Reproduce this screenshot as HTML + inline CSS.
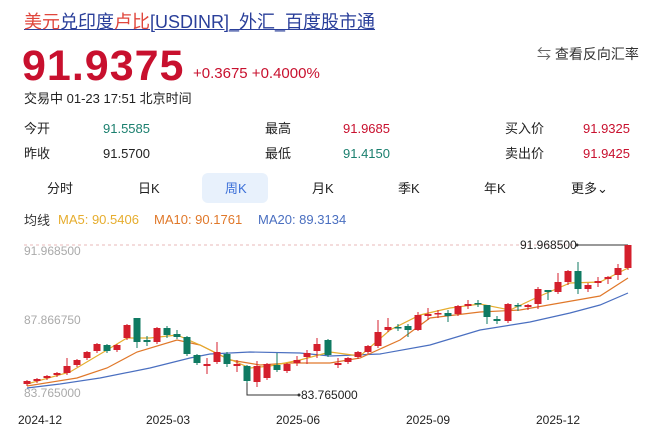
<!DOCTYPE html>
<html><head><meta charset="utf-8"><style>
body{margin:0;width:660px;height:435px;background:#fff;font-family:"Liberation Sans","Noto Sans CJK SC",sans-serif;position:relative;overflow:hidden;color:#222}
.a{position:absolute;white-space:nowrap}
.s{font-size:13px;line-height:18px;height:18px}
.red{color:#c8102e}.grn{color:#1a7f6e}
</style></head><body>
<div class="a" style="left:24px;top:8px;font-size:18px;text-decoration:underline;color:#2a3f9a"><span style="color:#e0463c">美元</span>兑印度<span style="color:#e0463c">卢比</span>[USDINR]_外汇_百度股市通</div>
<div class="a" style="left:22px;top:42px;font-size:43px;font-weight:bold;color:#c8102e;letter-spacing:1px">91.9375</div>
<div class="a" style="left:193px;top:65px;font-size:15px;color:#c8102e">+0.3675 +0.4000%</div>
<div class="a" style="left:537px;top:44px;font-size:14px;color:#333"><span style="color:#666">⇆</span> 查看反向汇率</div>
<div class="a s" style="left:24px;top:90px">交易中 01-23 17:51 北京时间</div>
<div class="a s" style="left:24px;top:120px">今开</div>
<div class="a s grn" style="left:103px;top:120px">91.5585</div>
<div class="a s" style="left:265px;top:120px">最高</div>
<div class="a s red" style="left:343px;top:120px">91.9685</div>
<div class="a s" style="left:505px;top:120px">买入价</div>
<div class="a s red" style="left:583px;top:120px">91.9325</div>
<div class="a s" style="left:24px;top:145px">昨收</div>
<div class="a s" style="left:103px;top:145px">91.5700</div>
<div class="a s" style="left:265px;top:145px">最低</div>
<div class="a s grn" style="left:343px;top:145px">91.4150</div>
<div class="a s" style="left:505px;top:145px">卖出价</div>
<div class="a s red" style="left:583px;top:145px">91.9425</div>
<div class="a" style="left:202px;top:173px;width:66px;height:30px;background:#e8f1fc;border-radius:6px"></div>
<div class="a s" style="left:47px;top:180px">分时</div>
<div class="a s" style="left:138px;top:180px">日K</div>
<div class="a s" style="left:225px;top:180px;color:#3b6fd8">周K</div>
<div class="a s" style="left:312px;top:180px">月K</div>
<div class="a s" style="left:398px;top:180px">季K</div>
<div class="a s" style="left:484px;top:180px">年K</div>
<div class="a s" style="left:571px;top:180px">更多⌄</div>
<div class="a s" style="left:24px;top:212px;color:#333">均线</div>
<div class="a s" style="left:58px;top:211px;color:#e6ad2e">MA5: 90.5406</div>
<div class="a s" style="left:154px;top:211px;color:#e0782a">MA10: 90.1761</div>
<div class="a s" style="left:258px;top:211px;color:#4a6fc0">MA20: 89.3134</div>
<svg class="a" style="left:0;top:0" width="660" height="435" id="s">
<line x1="24" y1="245" x2="630" y2="245" stroke="#e9b8b8" stroke-dasharray="3,3"/>
<text x="24" y="255" font-size="12" fill="#aaa" font-family="Liberation Sans">91.968500</text>
<text x="24" y="324" font-size="12" fill="#aaa" font-family="Liberation Sans">87.866750</text>
<text x="24" y="397" font-size="12" fill="#aaa" font-family="Liberation Sans">83.765000</text>
<g font-size="12" fill="#222" font-family="Liberation Sans">
<text x="18" y="424">2024-12</text><text x="146" y="424">2025-03</text><text x="276" y="424">2025-06</text><text x="406" y="424">2025-09</text><text x="536" y="424">2025-12</text>
<text x="520" y="249">91.968500</text><text x="301" y="399">83.765000</text></g>
<polyline points="577,245 628,245" stroke="#333" fill="none"/><circle cx="577" cy="245" r="1.5" fill="#333"/>
<polyline points="247,381 247,395 299,395" stroke="#333" fill="none"/><circle cx="299" cy="395" r="1.5" fill="#333"/>
<polyline fill="none" stroke="#4a6fc0" stroke-width="1.2" points="27,388 60,384 100,378 150,368 190,358 210,354 250,352 300,353 330,356 380,354 430,345 480,330 530,322 570,313 600,305 628,293"/>
<polyline fill="none" stroke="#e0782a" stroke-width="1.2" points="27,386 77,378 107,368 137,352 177,340 200,345 230,360 260,365 290,363 330,363 360,358 400,340 430,318 480,312 520,310 560,303 600,296 628,278"/>
<polyline fill="none" stroke="#e6ad2e" stroke-width="1.2" points="27,384 70,372 107,350 127,338 150,338 177,335 200,345 220,355 250,368 270,366 300,360 330,352 360,356 390,330 420,315 450,308 480,304 510,310 540,296 570,283 600,282 628,268"/>
<g id="c"></g>
</svg>
<script>
var d=[[27,381,384,'r'],[37,379,381,'r'],[47,376,378,'r'],[57,373,375,'r'],[67,366,373,'r',358],[77,360,365,'r'],[87,352,358,'r'],[97,344,351,'r'],[107,345,351,'g'],[117,345,350,'r'],[127,325,338,'r'],[137,318,342,'g',318,348],[147,340,342,'g',336,346],[157,328,342,'r'],[167,328,335,'g',326,338],[177,334,337,'g',330,339],[187,337,354,'g'],[197,355,363,'g'],[207,364,366,'r',358,374],[217,352,362,'r',342,364],[227,354,364,'g',352,367],[237,364,366,'r',360,372],[247,366,381,'g'],[257,366,382,'r',361,387],[267,364,378,'r'],[277,365,370,'g',353,372],[287,364,371,'r'],[297,360,363,'r',356,366],[307,353,357,'r',350,364],[317,344,351,'r',338,358],[328,340,355,'g'],[338,363,365,'r',358,368],[348,358,362,'r'],[358,352,357,'r'],[368,346,352,'r'],[378,332,346,'r',320,348],[388,327,330,'r',318,332],[398,327,328,'g',324,331],[408,326,330,'g',324,337],[418,315,330,'r',312,331],[428,314,316,'r',308,320],[438,313,314,'r',310,318],[448,313,316,'g',310,322],[458,306,314,'r'],[468,304,306,'r',300,309],[478,303,304,'g',300,307],[487,305,317,'g',305,324],[497,319,321,'g',316,324],[508,304,321,'r'],[518,305,306,'g',303,311],[528,305,307,'r',304,310],[538,289,304,'r',287,309],[548,290,292,'g',290,300],[558,282,292,'r',273,294],[568,271,282,'r',270,285],[578,271,289,'g',262,294],[588,285,289,'r',283,292],[598,281,283,'r',277,287],[608,277,279,'r',276,284],[618,268,275,'r',264,280],[628,245,268,'r',245,270]];
var h='';d.forEach(function(c){var col=c[3]=='r'?'#d41f2c':'#0f7a62';var hi=c[4]||c[1]-1,lo=c[5]||c[2]+2;
h+='<line x1="'+c[0]+'" x2="'+c[0]+'" y1="'+hi+'" y2="'+lo+'" stroke="'+col+'"/>';
h+='<rect x="'+(c[0]-3.5)+'" y="'+c[1]+'" width="7" height="'+Math.max(1.5,c[2]-c[1])+'" fill="'+col+'"/>';});
document.getElementById('c').innerHTML=h;
</script>
</body></html>
